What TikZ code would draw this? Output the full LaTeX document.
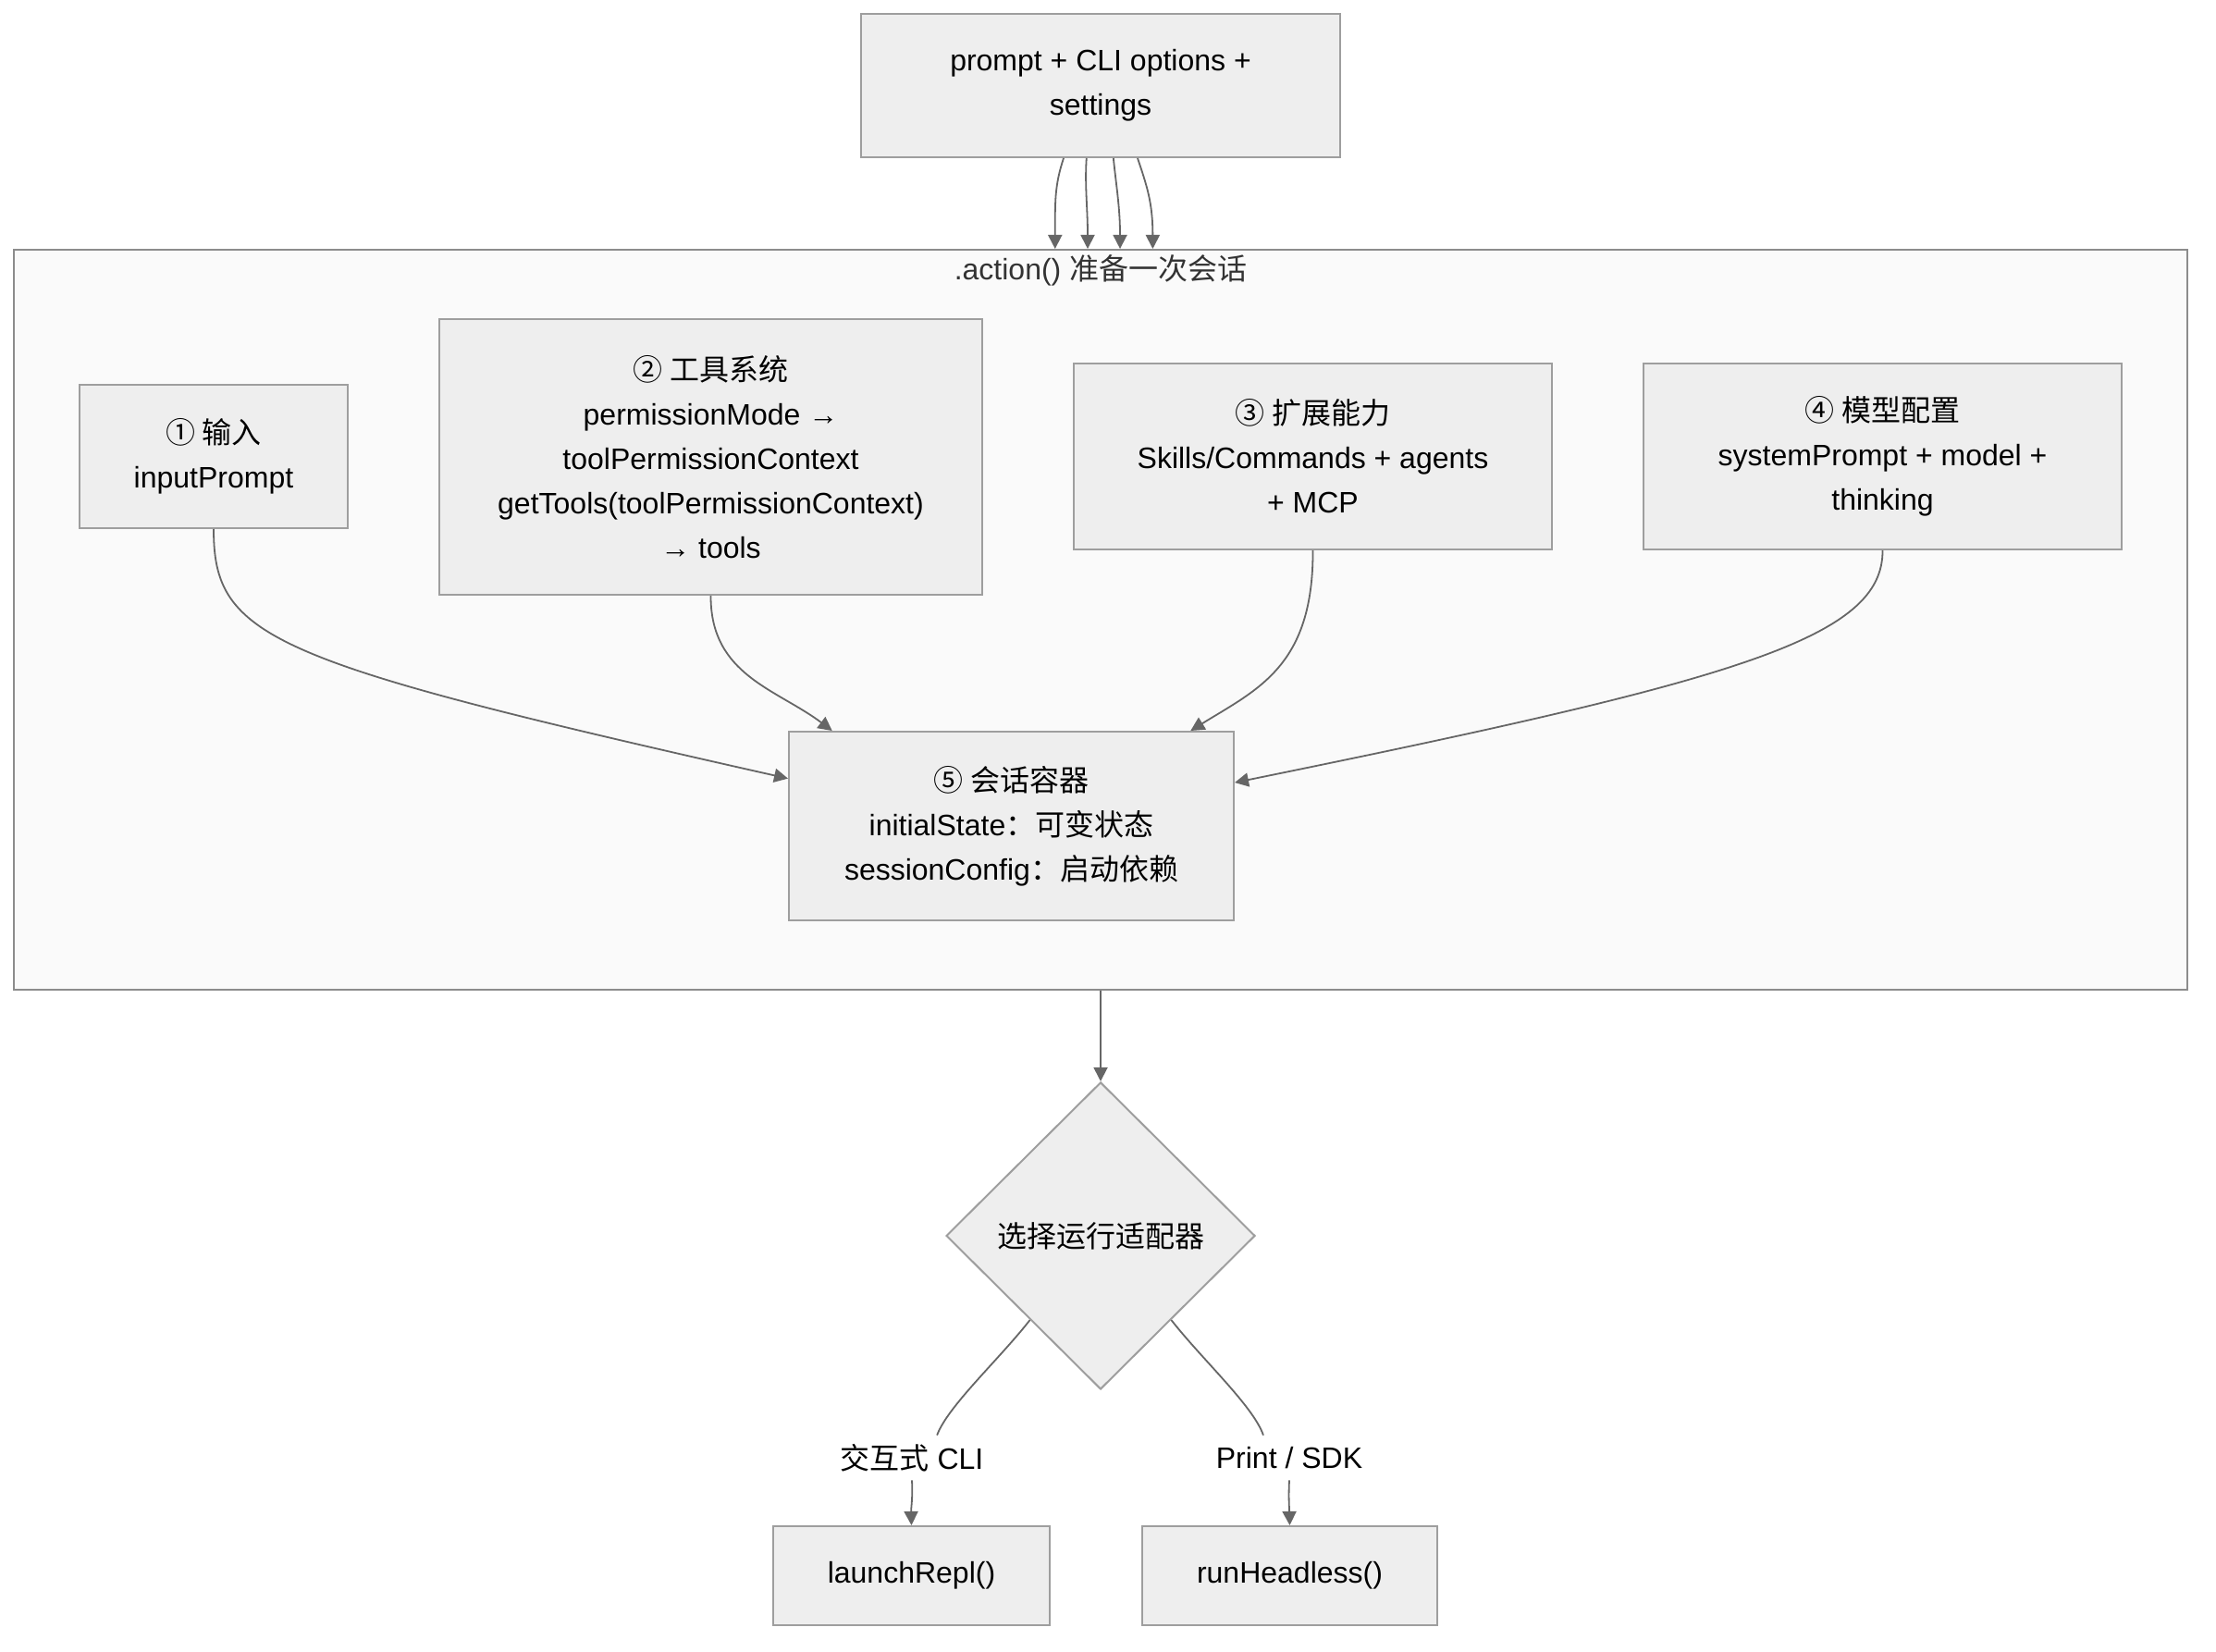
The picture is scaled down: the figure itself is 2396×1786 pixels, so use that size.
\documentclass[tikz,border=0pt]{standalone}
\usepackage{fontspec}
\setmainfont{Liberation Sans}
\newfontfamily\cjk{Noto Sans CJK SC}
\usetikzlibrary{arrows.meta,shapes.geometric}
\definecolor{boxfill}{HTML}{EEEEEE}
\definecolor{boxline}{HTML}{9E9E9E}
\definecolor{clusterfill}{HTML}{FAFAFA}
\definecolor{clusterline}{HTML}{8C8C8C}
\definecolor{edgecol}{HTML}{666666}
\definecolor{titlecol}{HTML}{333333}
\begin{document}
\begin{tikzpicture}[x=0.5pt,y=-0.5pt,
  box/.style={draw=boxline, fill=boxfill, line width=1pt, inner sep=0pt, align=center,
    font=\fontsize{16}{24}\selectfont, text=black},
  arr/.style={draw=edgecol, line width=0.9pt, -{Triangle[length=7.5pt,width=7.5pt]}},
  plain/.style={draw=edgecol, line width=0.9pt},
  lbl/.style={fill=white, inner sep=0pt, minimum height=24pt, font=\fontsize{16}{24}\selectfont, text=black}
]
\fill[white] (0,0) rectangle (2396,1786);
\useasboundingbox (0,0) rectangle (2396,1786);

% top box
\node[box, minimum width=259pt, minimum height=77.5pt] (top) at (1190,92.5) {prompt + CLI options +\\settings};

% cluster
\node[draw=clusterline, fill=clusterfill, line width=1pt, inner sep=0pt,
  minimum width=1175pt, minimum height=400pt] (cl) at (1190,670) {};
\node[font=\fontsize{16}{24}\selectfont, text=titlecol, inner sep=0pt] (cltitle) at (1190,292) {.action() {\cjk 准备一次会话}};

% inner boxes
\node[box, minimum width=145pt, minimum height=77.5pt] (b1) at (231,493.5) {{\cjk ① 输入}\\inputPrompt};
\node[box, minimum width=293.5pt, minimum height=149pt] (b2) at (768.5,494) {{\cjk ② 工具系统}\\permissionMode →\\toolPermissionContext\\getTools(toolPermissionContext)\\→ tools};
\node[box, minimum width=258.5pt, minimum height=100.5pt] (b3) at (1419.5,493.5) {{\cjk ③ 扩展能力}\\Skills/Commands + agents\\+ MCP};
\node[box, minimum width=258.5pt, minimum height=100.5pt] (b4) at (2035.5,493.5) {{\cjk ④ 模型配置}\\systemPrompt + model +\\thinking};
\node[box, minimum width=240.5pt, minimum height=102pt] (b5) at (1093.5,893) {{\cjk ⑤ 会话容器}\\initialState{\cjk ：可变状态}\\sessionConfig{\cjk ：启动依赖}};

% decision
\node[diamond, draw=boxline, fill=boxfill, line width=1pt, inner sep=0pt, aspect=1,
  minimum width=167pt, minimum height=166pt, font=\fontsize{16}{24}\selectfont] (dec) at (1190,1336) {\cjk 选择运行适配器};

% bottom boxes
\node[box, minimum width=149.5pt, minimum height=53.5pt] (repl) at (985.5,1703.5) {launchRepl()};
\node[box, minimum width=159.5pt, minimum height=53.5pt] (head) at (1394.5,1703.5) {runHeadless()};

% edge labels
\node[lbl] (la) at (986,1576) {{\cjk 交互式} CLI};
\node[lbl] (lb) at (1394,1576) {Print / SDK};

% top -> cluster
\draw[arr] (top.-117) .. controls +(-10,30) and +(0,-50) .. (cl.97.5);
\draw[arr] (top.-101) .. controls +(-2,30) and +(0,-45) .. (cl.92.4);
\draw[arr] (top.-80) .. controls +(3,30) and +(0,-45) .. (cl.87.3);
\draw[arr] (top.-63) .. controls +(10,30) and +(0,-50) .. (cl.82.3);

% inner edges
\draw[arr] (b1.south) .. controls (231,690) and (290,715) .. (b5.168);
\draw[arr] (b2.south) .. controls (768,730) and (840,745) .. (b5.152);
\draw[arr] (b3.south) .. controls (1420,720) and (1360,745) .. (b5.28);
\draw[arr] (b4.south) .. controls (2036,690) and (1880,735) .. (b5.11);

% cluster -> decision
\draw[arr] (cl.south) -- (dec.north);

% decision -> adapters
\draw[plain] (dec.230) .. controls (1080,1470) and (1025,1520) .. (la.42);
\draw[arr] (la.south) .. controls (987,1620) and (985,1630) .. (repl.north);
\draw[plain] (dec.310) .. controls (1300,1470) and (1355,1520) .. (lb.139);
\draw[arr] (lb.south) .. controls (1393,1620) and (1394,1630) .. (head.north);
\end{tikzpicture}
\end{document}
